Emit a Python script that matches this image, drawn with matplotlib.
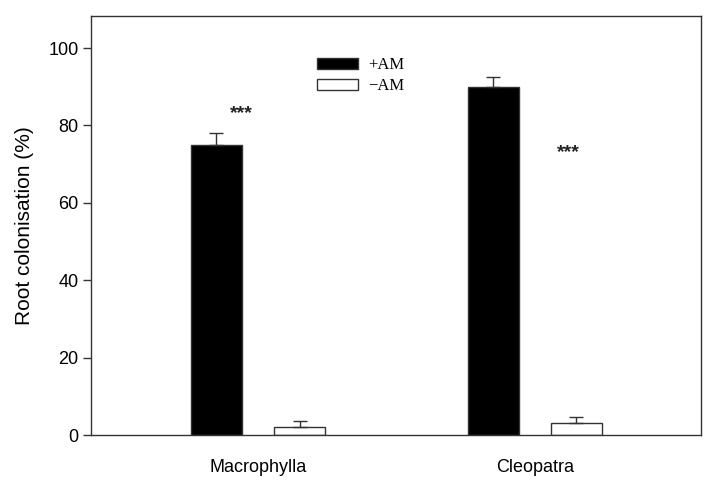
import numpy as np
import matplotlib.pyplot as plt
from matplotlib.patches import Patch

species = ['Macrophylla', 'Cleopatra']
am_plus = [75, 90]
am_plus_err = [3.0, 2.5]
am_minus = [2, 3]
am_minus_err = [1.7, 1.7]
star_y = [83.0, 73.0]
yticks = [0, 20, 40, 60, 80, 100]

fig = plt.figure(figsize=(7.13, 4.82), dpi=100)
ax = fig.add_axes([91/713, 1-435/482, (701-91)/713, (435-16)/482])

x = np.arange(1, len(species)+1)
w = 0.184
off = 0.15
ax.bar(x-off, am_plus, w, color='black', edgecolor='#333333', linewidth=1,
       yerr=[np.zeros(2), am_plus_err], capsize=5, error_kw=dict(elinewidth=1, capthick=1, ecolor='#333333'))
ax.bar(x+off, am_minus, w, color='white', edgecolor='#333333', linewidth=1,
       yerr=[np.zeros(2), am_minus_err], capsize=5, error_kw=dict(elinewidth=1, capthick=1, ecolor='#333333'))

ax.text(x[0]-off+0.09, star_y[0], '***', ha='center', va='center', fontsize=14,
        family='Liberation Sans', fontweight='bold', color='#222222')
ax.text(x[1]+off-0.03, star_y[1], '***', ha='center', va='center', fontsize=14,
        family='Liberation Sans', fontweight='bold', color='#222222')

ax.set_xlim(0.397, 2.6)
ax.set_ylim(0, 108.3)
ax.set_xticks(x)
ax.set_xticklabels(species, fontsize=13, family='Liberation Sans')
ax.tick_params(axis='x', length=0, pad=17)
ax.set_yticks(yticks)
ax.set_yticklabels([str(t) for t in yticks], fontsize=13, family='Liberation Sans')
ax.tick_params(axis='y', length=6, width=1, color='#333333', pad=3)
ax.set_ylabel('Root colonisation (%)', fontsize=15, family='Liberation Sans', labelpad=10)
for s in ax.spines.values():
    s.set_color('#333333')
    s.set_linewidth(1)

handles = [Patch(facecolor='black', edgecolor='#333333'),
           Patch(facecolor='white', edgecolor='#333333')]
fig.legend(handles, ['+AM', '\u2212AM'], loc='upper left', bbox_to_anchor=(317/713, 1-57/482),
           frameon=False, borderpad=0, borderaxespad=0, handlelength=2.45, handleheight=0.66,
           handletextpad=0.6, labelspacing=0.3, prop=dict(family='Liberation Serif', size=12))

fig.savefig('out.png', dpi=100)
